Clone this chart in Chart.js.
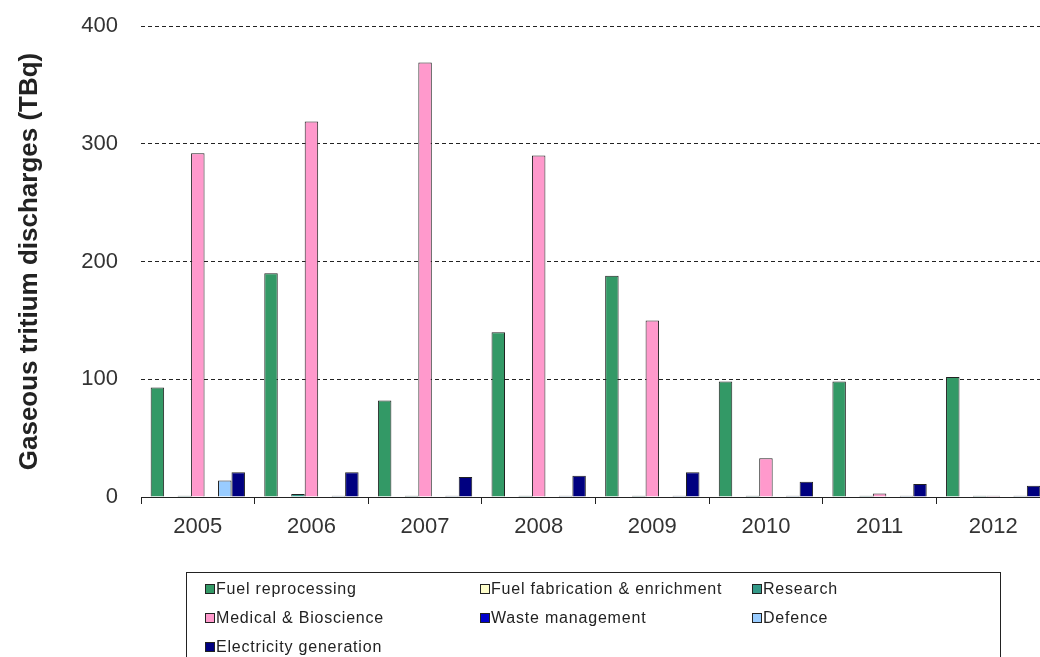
<!DOCTYPE html>
<html>
<head>
<meta charset="utf-8">
<script src="https://cdn.jsdelivr.net/npm/chart.js@4"></script>
<style>
  html, body { margin: 0; padding: 0; background: #fff; overflow: hidden; }
  #wrap { position: relative; width: 1050px; height: 657px; }
  #legend {
    position: absolute; left: 186px; top: 572px; width: 815px; height: 100px;
    border: 1px solid #222; box-sizing: border-box;
    font-family: "Liberation Sans", Arial, sans-serif; font-size: 16px; color: #222;
    letter-spacing: 0.8px;
  }
  .item { position: absolute; white-space: nowrap; line-height: 16px; }
  .sw { display: inline-block; width: 8px; height: 8px; border: 1px solid #222; margin-right: 1px; vertical-align: 0px; }
</style>
</head>
<body>
<div id="wrap">
  <canvas id="chart" width="1050" height="657"></canvas>
  <div id="legend"></div>
</div>
<script>
const years = ['2005', '2006', '2007', '2008', '2009', '2010', '2011', '2012'];

const fuelReprocessing = [93, 190, 82, 140, 188, 98, 98, 102];
const fuelFabrication = [0, 0, 0, 0, 0, 0, 0, 0];
const research = [1, 2.5, 1, 1, 1, 1, 1, 1];
const medical = [292, 319, 369, 290, 150, 33, 3, 1];
const wasteManagement = [0, 0, 0, 0, 0, 0, 0, 0];
const defence = [14, 1, 1, 1, 1, 1, 1, 1];
const electricity = [21, 21, 17, 18, 21, 13, 11, 9.5];

const seriesNames = ['Fuel reprocessing', 'Fuel fabrication & enrichment', 'Research',
  'Medical & Bioscience', 'Waste management', 'Defence', 'Electricity generation'];
const seriesColors = ['#339966', '#FFFFCC', '#339988', '#FF99CC', '#0000CC', '#99CCFF', '#000080'];
const seriesData = [fuelReprocessing, fuelFabrication, research, medical, wasteManagement, defence, electricity];

const yTicks = [0, 100, 200, 300, 400];

const datasets = seriesNames.map((name, i) => ({
    label: name,
    data: seriesData[i],
    backgroundColor: seriesColors[i],
    borderColor: '#222',
    borderWidth: 1,
    categoryPercentage: 0.83,
    barPercentage: 1.0
}));

new Chart(document.getElementById('chart'), {
    type: 'bar',
    data: { labels: years, datasets: datasets },
    options: {
        responsive: false,
        animation: false,
        layout: { padding: { top: 26, bottom: 110, right: 0, left: 0 } },
        plugins: { legend: { display: false }, tooltip: { enabled: false } },
        scales: {
            x: {
                afterFit: s => { s.height = 50; },
                grid: { drawOnChartArea: false, drawTicks: true, tickLength: 7, color: '#222', offset: true },
                border: { display: true, color: '#222', width: 1 },
                ticks: { color: '#333', padding: 10, font: { family: 'Liberation Sans', size: 22 } }
            },
            y: {
                min: 0, max: 400,
                afterFit: s => { s.width = 141; s.paddingTop = 0; s.paddingBottom = 0; },
                afterBuildTicks: s => { s.ticks = yTicks.map(v => ({ value: v })); },
                grid: {
                    drawTicks: false,
                    color: ctx => (ctx.tick && ctx.tick.value === 0) ? 'rgba(0,0,0,0)' : '#222',
                    lineWidth: 1
                },
                border: { display: false, dash: [4, 3] },
                ticks: { color: '#333', padding: 23, font: { family: 'Liberation Sans', size: 22 } },
                title: {
                    display: true,
                    text: 'Gaseous tritium discharges (TBq)',
                    color: '#222',
                    padding: { top: 14, bottom: 0 },
                    font: { family: 'Liberation Sans', size: 26, weight: 'bold' }
                }
            }
        }
    }
});

// legend laid out in three columns, row by row like the original
const legend = document.getElementById('legend');
const colX = [18, 293, 565];
const rowY = [8, 37, 66];
seriesNames.forEach((name, i) => {
    const el = document.createElement('div');
    el.className = 'item';
    el.style.left = colX[i % 3] + 'px';
    el.style.top = rowY[Math.floor(i / 3)] + 'px';
    el.innerHTML = '<span class="sw" style="background:' + seriesColors[i] + '"></span>' +
        name.replace('&', '&amp;');
    legend.appendChild(el);
});
</script>
</body>
</html>
